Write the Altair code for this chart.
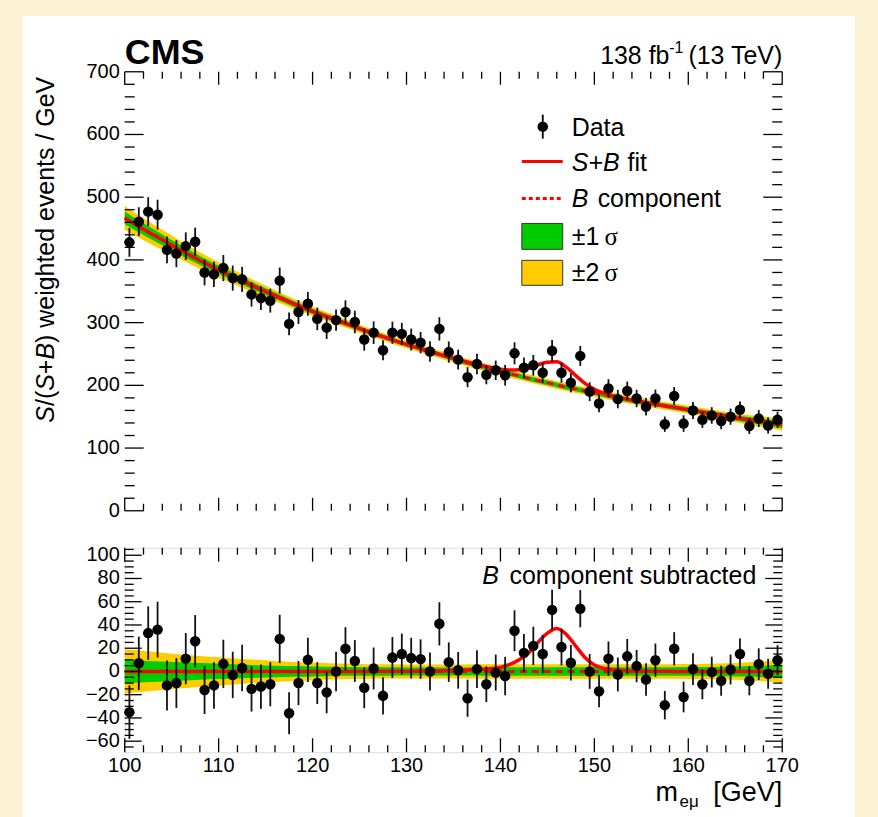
import altair as alt
import pandas as pd

FONT = "Liberation Sans"

# ---------------- data ----------------
BIN_CENTERS = [100.5 + i for i in range(70)]

DATA = [428, 461, 477, 472, 416, 410, 422, 429, 380, 377,
        387, 371, 369, 345, 339, 335, 367, 298, 317, 330,
        306, 292, 304, 317, 301, 273, 284, 256, 284, 282,
        273, 268, 254, 290, 253, 241, 213, 234, 217, 224,
        216, 251, 228, 232, 220, 255, 220, 204, 247, 190,
        171, 195, 178, 191, 179, 166, 179, 138, 183, 139,
        160, 145, 152, 143, 150, 161, 135, 147, 136, 145]

RESID = [-35, 7, 33, 36, -12, -10, 11, 26, -16, -12,
         6.5, -3, 3, -15, -13, -11, 28, -36, -10, 10,
         -10, -18, 0, 19.5, 9, -14, 2.6, -21, 12, 15,
         11.5, 10.6, 0, 41, 8, 1, -23, 2, -11, -1,
         -4, 35, 16, 22, 15, 53, 21, 7.5, 54, 0,
         -17, 11, -2.6, 13, 4.6, -7, 9.7, -29, 19.5, -22,
         2, -11, -0.6, -8, 1.7, 15, -8, 6.3, -2, 9.7]

ERR = [23, 23, 23, 24, 21.5, 21.5, 22, 22.5, 20.6, 20,
       20.8, 20, 20, 19.5, 19, 19, 20.8, 18, 19, 19,
       18, 18, 17, 18.6, 18, 17.6, 18, 16, 17.6, 17.6,
       17.5, 17, 16.3, 18.6, 17, 15.8, 16, 16.3, 15.3, 15.5,
       16.5, 17.6, 16.2, 16.5, 16.5, 17.2, 15.8, 15.3, 16, 15,
       13.9, 14.8, 14.6, 15, 13.9, 14, 14.3, 12.2, 14.3, 13.2,
       13.6, 12.9, 13.2, 12.9, 12.9, 13.3, 12.5, 13.6, 12.9, 12.9]

CURVE_X = [100, 102, 104, 106, 108, 110, 112, 114, 116, 118, 120, 122, 124, 126, 128,
           130, 132, 134, 136, 138, 139, 140, 141, 142, 143, 144, 145, 146, 147, 148,
           149, 150, 151, 152, 154, 156, 158, 160, 162, 164, 166, 168, 170]
B_COMP = [467, 449, 432, 415, 399, 384, 370, 356, 343, 330, 318, 307, 296, 285, 275,
          265, 256, 247, 238, 230, 226, 222, 218.5, 215, 211, 207.5, 204, 200.5, 197, 194,
          191, 188, 185, 182, 176, 171, 166, 161, 156, 151, 146, 142, 137]
SIGNAL = [0, 0, 0, 0, 0, 0, 0, 0, 0, 0, 0, 0, 0, 0, 0.1,
          0.2, 0.3, 0.5, 1.0, 1.8, 2.4, 3.5, 6, 10, 16, 25, 33, 37, 32, 22,
          12, 5.5, 2.5, 1.2, 0.4, 0.2, 0.1, 0, 0, 0, 0, 0, 0]
SIG1 = [10, 9.3, 8.6, 7.9, 7.2, 6.6, 6, 5.4, 5, 4.6, 4.3, 4, 3.8, 3.7, 3.6,
        3.5, 3.5, 3.5, 3.5, 3.6, 3.6, 3.6, 3.6, 3.6, 3.6, 3.6, 3.6, 3.6, 3.6, 3.6,
        3.6, 3.6, 3.6, 3.6, 3.6, 3.6, 3.7, 3.8, 3.9, 4.1, 4.4, 4.9, 5.5]
SIG2 = [19, 17.5, 16, 14.5, 13.3, 12.2, 11, 10, 9, 8.2, 7.5, 7, 6.6, 6.3, 6.1,
        6, 6, 6, 6, 6.2, 6.2, 6.2, 6.2, 6.2, 6.2, 6.2, 6.2, 6.2, 6.2, 6.2,
        6.2, 6.2, 6.2, 6.2, 6.2, 6.2, 6.3, 6.4, 6.6, 7, 7.6, 8.5, 9.5]

X_MAJOR = [100, 110, 120, 130, 140, 150, 160, 170]
X_MINOR = [v for v in range(100, 171, 2) if v % 10]
Y1_MAJOR = [0, 100, 200, 300, 400, 500, 600, 700]
Y1_MINOR = [v for v in range(0, 701, 20) if v % 100]
Y2_MAJOR = [-60, -40, -20, 0, 20, 40, 60, 80, 100]
Y2_MINOR = [v for v in range(-65, 106, 5) if v % 20]

# y title pieces: (text, italic)
Y_TITLE_PARTS = [("S", True), ("/(", False), ("S", True), ("+", False),
                 ("B", True), (") weighted events / GeV", False)]

# ---------------- tables ----------------
pts = pd.DataFrame({"x": BIN_CENTERS, "y": DATA, "err": ERR})
pts["lo"] = pts["y"] - pts["err"]
pts["hi"] = pts["y"] + pts["err"]

res = pd.DataFrame({"x": BIN_CENTERS, "y": RESID, "err": ERR})
res["lo"] = res["y"] - res["err"]
res["hi"] = res["y"] + res["err"]

cur = pd.DataFrame({"x": CURVE_X, "b": B_COMP, "s": SIGNAL, "s1": SIG1, "s2": SIG2})
cur["sb"] = cur["b"] + cur["s"]
cur["u_lo2"] = cur["b"] - cur["s2"]
cur["u_hi2"] = cur["b"] + cur["s2"]
cur["u_lo1"] = cur["b"] - cur["s1"]
cur["u_hi1"] = cur["b"] + cur["s1"]
cur["l_lo2"] = -cur["s2"]
cur["l_hi2"] = cur["s2"]
cur["l_lo1"] = -cur["s1"]
cur["l_hi1"] = cur["s1"]
cur["zero"] = 0.0

dummy = pd.DataFrame({"a": [0]})

W, H1, H2 = 659, 440, 205
XS = alt.Scale(domain=[100, 170], nice=False, zero=False)
YS1 = alt.Scale(domain=[0, 700], nice=False, zero=False)
YS2 = alt.Scale(domain=[-69.5, 106.5], nice=False, zero=False)

GREEN = "#00CC00"
YELLOW = "#FFCC00"
RED = "#FF0000"
DOT = 110

# Arial / Liberation Sans advance widths (em) for the y title layout
ADV = {"S": 0.667, "/": 0.278, "(": 0.333, ")": 0.333, "+": 0.584, "B": 0.667,
       " ": 0.278, "w": 0.722, "e": 0.556, "i": 0.222, "g": 0.556, "h": 0.556,
       "t": 0.278, "d": 0.556, "v": 0.5, "n": 0.556, "s": 0.5, "G": 0.778, "V": 0.667}


def X(field):
    return alt.X(f"{field}:Q", scale=XS, axis=None)


def lab(v):
    return str(v).replace("-", "\u2212")


def tick_layers(ys, H, xmaj, xmin, ymaj, ymin, yvals_major, yvals_minor):
    layers = []
    for vals, ln in ((X_MAJOR, xmaj), (X_MINOR, xmin)):
        d = pd.DataFrame({"v": vals})
        base = alt.Chart(d).mark_rule(color="black", strokeWidth=1.3)
        layers.append(base.encode(x=X("v"), y=alt.value(H), y2=alt.value(H - ln)))
        layers.append(base.encode(x=X("v"), y=alt.value(0), y2=alt.value(ln)))
    for vals, ln in ((yvals_major, ymaj), (yvals_minor, ymin)):
        d = pd.DataFrame({"v": vals})
        base = alt.Chart(d).mark_rule(color="black", strokeWidth=1.3)
        yy = alt.Y("v:Q", scale=ys, axis=None)
        layers.append(base.encode(y=yy, x=alt.value(0), x2=alt.value(ln)))
        layers.append(base.encode(y=yy, x=alt.value(W), x2=alt.value(W - ln)))
    d = pd.DataFrame({"v": yvals_major, "t": [lab(v) for v in yvals_major]})
    layers.append(alt.Chart(d).mark_text(align="right", baseline="middle", fontSize=20,
                                         font=FONT, color="black").encode(
        y=alt.Y("v:Q", scale=ys, axis=None), x=alt.value(-5), text="t:N"))
    return layers


def txt(text, x, y, size=25, align="left", baseline="middle", style="normal",
        weight="normal", font=FONT, angle=0):
    return alt.Chart(dummy).mark_text(
        text=text, align=align, baseline=baseline, fontSize=size, fontStyle=style,
        fontWeight=weight, font=font, color="black", angle=angle
    ).encode(x=alt.value(x), y=alt.value(y))


def y_title(x, top, size=25):
    widths = [sum(ADV.get(c, 0.556) for c in t) * size for t, _ in Y_TITLE_PARTS]
    ypos = top + sum(widths)
    out = []
    for (t, it), w in zip(Y_TITLE_PARTS, widths):
        out.append(txt(t, x, ypos, size=size, align="left", angle=270,
                       style="italic" if it else "normal"))
        ypos -= w
    return out


# ---------------- upper panel ----------------
bg = alt.Chart(dummy).mark_rect(fill="white").encode(
    x=alt.value(-102), x2=alt.value(732), y=alt.value(-56), y2=alt.value(747))

u_band2 = alt.Chart(cur).mark_area(color=YELLOW, interpolate="monotone").encode(
    x=X("x"), y=alt.Y("u_lo2:Q", scale=YS1, axis=None), y2="u_hi2:Q")
u_band1 = alt.Chart(cur).mark_area(color=GREEN, interpolate="monotone").encode(
    x=X("x"), y=alt.Y("u_lo1:Q", scale=YS1, axis=None), y2="u_hi1:Q")
u_b = alt.Chart(cur).mark_line(color=RED, strokeWidth=3, strokeDash=[7, 5],
                               interpolate="monotone").encode(
    x=X("x"), y=alt.Y("b:Q", scale=YS1, axis=None))
u_sb = alt.Chart(cur).mark_line(color=RED, strokeWidth=3.5, interpolate="monotone").encode(
    x=X("x"), y=alt.Y("sb:Q", scale=YS1, axis=None))
u_err = alt.Chart(pts).mark_rule(color="#111111", strokeWidth=1.8).encode(
    x=X("x"), y=alt.Y("lo:Q", scale=YS1, axis=None), y2="hi:Q")
u_pts = alt.Chart(pts).mark_circle(color="black", size=DOT, opacity=1).encode(
    x=X("x"), y=alt.Y("y:Q", scale=YS1, axis=None))

# legend
leg = [
    alt.Chart(dummy).mark_rule(color="black", strokeWidth=1.8).encode(
        x=alt.value(419), y=alt.value(43), y2=alt.value(67)),
    alt.Chart(dummy).mark_circle(color="black", size=DOT, opacity=1).encode(
        x=alt.value(419), y=alt.value(55)),
    alt.Chart(dummy).mark_rule(color=RED, strokeWidth=3).encode(
        x=alt.value(398), x2=alt.value(439), y=alt.value(90)),
    alt.Chart(dummy).mark_rule(color=RED, strokeWidth=3, strokeDash=[4, 3]).encode(
        x=alt.value(398), x2=alt.value(439), y=alt.value(127)),
    alt.Chart(dummy).mark_rect(fill=GREEN, stroke="#333333", strokeWidth=1).encode(
        x=alt.value(398), x2=alt.value(439), y=alt.value(152), y2=alt.value(178)),
    alt.Chart(dummy).mark_rect(fill=YELLOW, stroke="#333333", strokeWidth=1).encode(
        x=alt.value(398), x2=alt.value(439), y=alt.value(189), y2=alt.value(214)),
    txt("Data", 448, 56),
    txt("S+B", 448, 91, style="italic"),
    txt("fit", 504, 91),
    txt("B", 448, 128, style="italic"),
    txt("component", 474, 128),
    txt("±1", 448, 166),
    txt("σ", 481, 166, font="Liberation Serif"),
    txt("±2", 448, 202),
    txt("σ", 481, 202, font="Liberation Serif"),
]

header = [
    txt("CMS", 0, -8, size=36, baseline="alphabetic", weight="bold"),
    txt("(13 TeV)", 659, -8, size=25, align="right", baseline="alphabetic"),
    txt("-1", 560, -19, size=16, align="right", baseline="alphabetic"),
    txt("138 fb", 546, -8, size=25, align="right", baseline="alphabetic"),
] + y_title(-79, 5)

upper = alt.layer(
    bg, u_band2, u_band1, u_b, u_sb, u_err, u_pts,
    *tick_layers(YS1, H1, 13, 7, 19, 10, Y1_MAJOR, Y1_MINOR),
    *leg, *header,
).properties(width=W, height=H1)

# ---------------- lower panel ----------------
l_band2 = alt.Chart(cur).mark_area(color=YELLOW, interpolate="monotone").encode(
    x=X("x"), y=alt.Y("l_lo2:Q", scale=YS2, axis=None), y2="l_hi2:Q")
l_band1 = alt.Chart(cur).mark_area(color=GREEN, interpolate="monotone").encode(
    x=X("x"), y=alt.Y("l_lo1:Q", scale=YS2, axis=None), y2="l_hi1:Q")
l_b = alt.Chart(cur).mark_line(color=RED, strokeWidth=3, strokeDash=[7, 5]).encode(
    x=X("x"), y=alt.Y("zero:Q", scale=YS2, axis=None))
l_s = alt.Chart(cur).mark_line(color=RED, strokeWidth=3.5, interpolate="monotone").encode(
    x=X("x"), y=alt.Y("s:Q", scale=YS2, axis=None))
l_err = alt.Chart(res).mark_rule(color="#111111", strokeWidth=1.8).encode(
    x=X("x"), y=alt.Y("lo:Q", scale=YS2, axis=None), y2="hi:Q")
l_pts = alt.Chart(res).mark_circle(color="black", size=DOT, opacity=1).encode(
    x=X("x"), y=alt.Y("y:Q", scale=YS2, axis=None))

xlab_df = pd.DataFrame({"v": X_MAJOR, "t": [lab(v) for v in X_MAJOR]})
x_labels = alt.Chart(xlab_df).mark_text(align="center", baseline="top", fontSize=20,
                                        font=FONT, color="black").encode(
    x=X("v"), y=alt.value(H2 + 4), text="t:N")

lower_text = [
    txt("component subtracted", 633, 28, align="right"),
    txt("B", 375, 28, align="right", style="italic"),
    txt("m", 532, 254, size=27, baseline="alphabetic"),
    txt("eμ", 556, 260, size=17, baseline="alphabetic"),
    txt("[GeV]", 659, 254, size=27, align="right", baseline="alphabetic"),
]

lower = alt.layer(
    l_band2, l_band1, l_b, l_s, l_err, l_pts,
    *tick_layers(YS2, H2, 14, 7, 17, 9, Y2_MAJOR, Y2_MINOR),
    x_labels, *lower_text,
).properties(width=W, height=H2)

chart = alt.vconcat(upper, lower, spacing=37, bounds="flush").configure_view(
    stroke="black", strokeWidth=1.6
).configure(
    background="#FBF3D3",
    padding={"left": 22, "top": 14, "right": 22, "bottom": 0},
)

chart.save("out.html", embed_options={"renderer": "svg", "actions": False})
